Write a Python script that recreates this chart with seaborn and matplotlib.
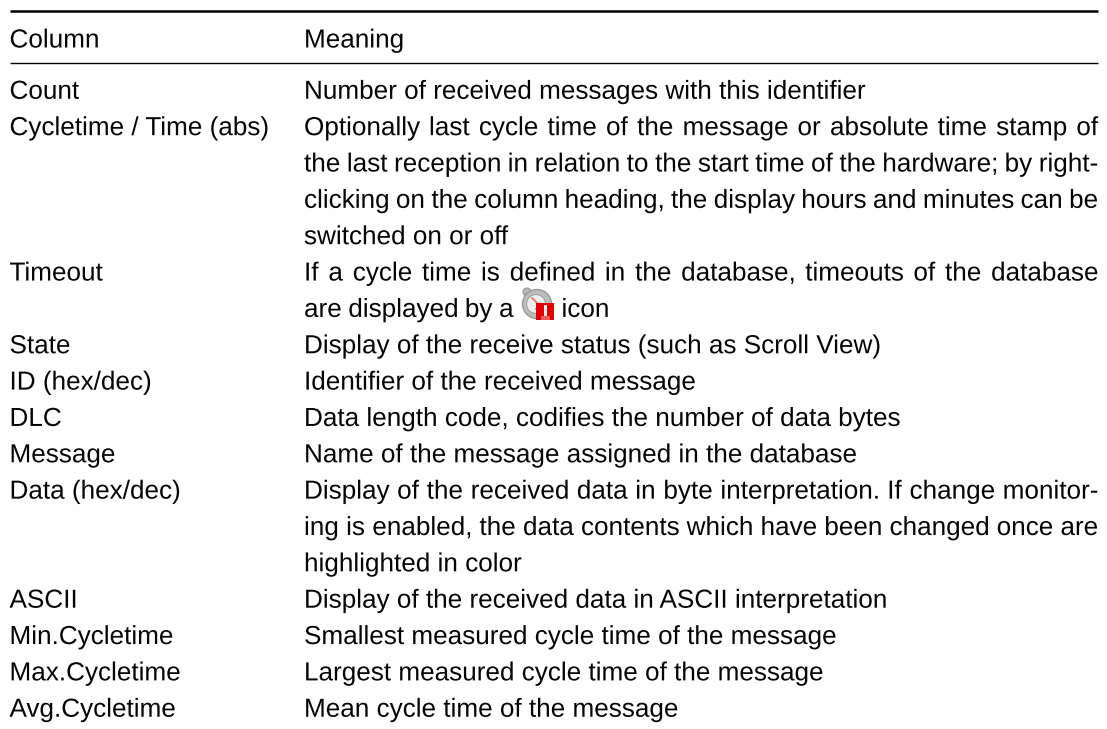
import matplotlib
matplotlib.use("Agg")
import matplotlib.pyplot as plt
import matplotlib.patheffects as pe
from matplotlib.patches import Circle, Rectangle
import seaborn as sns

sns.set_theme(style="white")
plt.rcParams['font.family'] = ['Liberation Sans', 'DejaVu Sans']
plt.rcParams['text.hinting'] = 'none'
plt.rcParams['text.hinting_factor'] = 1

header = ["Column", "Meaning"]
col1 = ["Count", "Cycletime / Time (abs)", "Timeout", "State", "ID (hex/dec)", "DLC", "Message",
        "Data (hex/dec)", "ASCII", "Min.Cycletime", "Max.Cycletime", "Avg.Cycletime"]
col2 = [
    ["Number of received messages with this identifier"],
    ["Optionally last cycle time of the message or absolute time stamp of",
     "the last reception in relation to the start time of the hardware; by right-",
     "clicking on the column heading, the display hours and minutes can be",
     "switched on or off"],
    ["If a cycle time is defined in the database, timeouts of the database",
     "are displayed by a"],
    ["Display of the receive status (such as Scroll View)"],
    ["Identifier of the received message"],
    ["Data length code, codifies the number of data bytes"],
    ["Name of the message assigned in the database"],
    ["Display of the received data in byte interpretation. If change monitor-",
     "ing is enabled, the data contents which have been changed once are",
     "highlighted in color"],
    ["Display of the received data in ASCII interpretation"],
    ["Smallest measured cycle time of the message"],
    ["Largest measured cycle time of the message"],
    ["Mean cycle time of the message"],
]
icon_word = "icon"

W, H = 1107, 729
fig = plt.figure(figsize=(W/100, H/100), dpi=100, facecolor="white")
ax = fig.add_axes([0, 0, 1, 1])
ax.set_xlim(0, W); ax.set_ylim(H, 0); ax.axis("off")

FS = 18.8
X1, X2, XR = 9.5, 304, 1098
color = "#050505"
effects = [pe.Normal()]

def put(x, y, s):
    return ax.text(x, y, s, fontsize=FS, va="baseline", color=color, path_effects=effects)

put(X1, 47.5, header[0])
put(X2, 47.5, header[1])
ax.plot([X1, XR], [11.3, 11.3], color="black", lw=1.8, solid_capstyle="butt")
ax.plot([X1, XR], [63.3, 63.3], color="black", lw=1.0, solid_capstyle="butt")

renderer = fig.canvas.get_renderer()

def text_width(s):
    t = ax.text(0, 0, s, fontsize=FS)
    w = t.get_window_extent(renderer).width
    t.remove()
    return w

def justified(line, y, right=XR):
    words = line.split(" ")
    widths = [text_width(w) for w in words]
    gap = (right - X2 - sum(widths)) / (len(words) - 1)
    x = X2
    for w, wd in zip(words, widths):
        put(x, y, w)
        x += wd + gap

y = 98.8
LH = 36.35
for name, lines in zip(col1, col2):
    put(X1, y, name)
    for i, line in enumerate(lines):
        yy = y + i*LH
        if i < len(lines) - 1:
            justified(line, yy)
        elif line.startswith("are displayed"):
            justified(line, yy, right=513.5)
            put(561.5, yy, icon_word)
        else:
            put(X2, yy, line)
    y += LH*len(lines)

# small timeout icon: clock with red warning block
ax.add_patch(Circle((527, 292), 4, fc="#b8b8b8", ec="#999999", lw=0.8, zorder=3))
ax.add_patch(Circle((537, 304), 14.5, fc="#bdbdbd", ec="#9a9a9a", lw=1.0, zorder=3))
ax.add_patch(Circle((536, 304), 9.5, fc="#eeeeee", ec="#a0a0a0", lw=0.8, zorder=3))
ax.plot([532, 539], [298, 305], color="#f0785a", lw=1.3, zorder=4)
ax.plot([539, 536], [305, 309], color="#444444", lw=1.0, zorder=4)
ax.add_patch(Rectangle((536, 302.5), 18, 17.5, fc="#e30000", ec="none", zorder=5))
ax.add_patch(Rectangle((543.5, 304.5), 3.5, 11.5, fc="#fbeeee", ec="none", zorder=6))
ax.add_patch(Rectangle((541, 316), 9, 3.5, fc="#ffffff", alpha=0.35, ec="none", zorder=6))

fig.savefig("out.png", dpi=100)
